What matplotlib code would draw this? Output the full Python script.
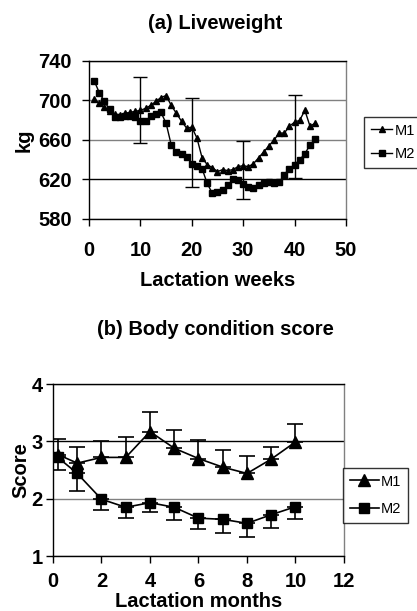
import matplotlib.pyplot as plt

# (a) liveweight, kg by lactation week
weeks = list(range(1, 45))
lw_m1 = [701, 697, 693, 689, 686, 685, 687, 688, 689, 690, 692, 695, 699, 703, 705,
         695, 687, 679, 672, 673, 662, 642, 635, 632, 628, 630, 629, 630, 633, 634,
         633, 636, 642, 648, 654, 660, 667, 667, 674, 678, 680, 690, 674, 677]
lw_m2 = [720, 708, 699, 691, 683, 683, 684, 684, 683, 679, 679, 684, 686, 688, 677,
         655, 648, 646, 643, 636, 634, 631, 616, 606, 607, 609, 614, 620, 619, 615,
         612, 611, 614, 616, 617, 616, 617, 625, 631, 635, 640, 646, 655, 661]
# separate error bars (low / high ends)
err_weeks = [10, 20, 30, 40]
err_low = [657, 612, 600, 622]
err_high = [724, 703, 659, 706]

# (b) body condition score by lactation month
months = [0.2, 1, 2, 3, 4, 5, 6, 7, 8, 9, 10]
bcs_m1 = [2.77, 2.62, 2.72, 2.72, 3.17, 2.88, 2.70, 2.55, 2.44, 2.69, 2.99]
bcs_m1_up = [3.04, 2.91, 3.01, 3.07, 3.51, 3.19, 3.02, 2.85, 2.74, 2.90, 3.30]
bcs_m2 = [2.72, 2.44, 1.99, 1.85, 1.93, 1.85, 1.66, 1.64, 1.57, 1.72, 1.86]
bcs_m2_low = [2.50, 2.14, 1.81, 1.67, 1.76, 1.62, 1.47, 1.41, 1.33, 1.48, 1.65]

plt.rcParams['font.family'] = ['Liberation Sans', 'DejaVu Sans']
FS = 14.5

fig = plt.figure(figsize=(4.17, 6.11), dpi=100)
ax1 = fig.add_axes([0.2134, 0.6416, 0.6163, 0.2586])
ax2 = fig.add_axes([0.1271, 0.0900, 0.6978, 0.2815])


def style_axes(ax, dark_tick, xpad, ypad):
    ax.grid(axis='y', color='#808080', linewidth=1)
    for tick, line in zip(ax.get_yticks(), ax.get_ygridlines()):
        if abs(tick - dark_tick) < 1e-6:
            line.set_color('black')
    ax.set_axisbelow(True)
    ax.spines['right'].set_color('#808080')
    for s in ax.spines.values():
        s.set_linewidth(1)
    ax.tick_params(direction='out', length=5, width=1, labelsize=FS)
    ax.tick_params(axis='x', pad=xpad)
    ax.tick_params(axis='y', pad=ypad)
    for lab in ax.get_xticklabels() + ax.get_yticklabels():
        lab.set_fontweight('bold')


def add_legend(ax, x0, y0, hl, spacing):
    leg = ax.legend(loc='upper left', bbox_to_anchor=(x0 / 417, 1 - y0 / 611),
                    bbox_transform=fig.transFigure, frameon=True, fancybox=False,
                    edgecolor='black', fontsize=10.5, handlelength=hl,
                    handletextpad=0.15, borderpad=0.45, labelspacing=spacing,
                    borderaxespad=0)
    leg.get_frame().set_linewidth(1)
    return leg


# ---- (a) ----
ax1.plot(weeks, lw_m1, color='black', lw=1, marker='^', ms=4.5, label='M1')
ax1.plot(weeks, lw_m2, color='black', lw=1, marker='s', ms=4, label='M2')
mid = [(lo + hi) / 2 for lo, hi in zip(err_low, err_high)]
half = [(hi - lo) / 2 for lo, hi in zip(err_low, err_high)]
ax1.errorbar(err_weeks, mid, yerr=half, fmt='none', ecolor='black', elinewidth=1,
             capsize=5, capthick=1)
ax1.set_xlim(0, 50)
ax1.set_ylim(580, 740)
ax1.set_xticks(range(0, 51, 10))
ax1.set_yticks(range(580, 741, 40))
style_axes(ax1, 620, xpad=11, ypad=7.5)
ax1.set_ylabel('kg', fontsize=FS, fontweight='bold', labelpad=3)
ax1.set_xlabel('Lactation weeks', fontsize=FS, fontweight='bold', labelpad=8)
fig.text(0.516, 0.962, '(a) Liveweight', ha='center', va='center',
         fontsize=FS, fontweight='bold')
add_legend(ax1, 364, 117, 1.5, 0.65)

# ---- (b) ----
ax2.plot(months, bcs_m1, color='black', lw=1.2, marker='^', ms=8, label='M1')
ax2.plot(months, bcs_m2, color='black', lw=1.2, marker='s', ms=7.5, label='M2')
up = [u - m for u, m in zip(bcs_m1_up, bcs_m1)]
dn = [m - d for m, d in zip(bcs_m2, bcs_m2_low)]
ax2.errorbar(months, bcs_m1, yerr=[[0] * len(up), up], fmt='none', ecolor='black',
             elinewidth=1.2, capsize=6, capthick=1.2)
ax2.errorbar(months, bcs_m2, yerr=[dn, [0] * len(dn)], fmt='none', ecolor='black',
             elinewidth=1.2, capsize=6, capthick=1.2)
ax2.set_xlim(0, 12)
ax2.set_ylim(1, 4)
ax2.set_xticks(range(0, 13, 2))
ax2.set_yticks(range(1, 5))
style_axes(ax2, 3, xpad=6.5, ypad=2.5)
ax2.set_ylabel('Score', fontsize=FS, fontweight='bold', labelpad=1)
ax2.set_xlabel('Lactation months', fontsize=FS, fontweight='bold', labelpad=1)
fig.text(0.516, 0.46, '(b) Body condition score', ha='center', va='center',
         fontsize=FS, fontweight='bold')
add_legend(ax2, 343, 468, 2.0, 0.95)

fig.savefig('out.png', dpi=100)
